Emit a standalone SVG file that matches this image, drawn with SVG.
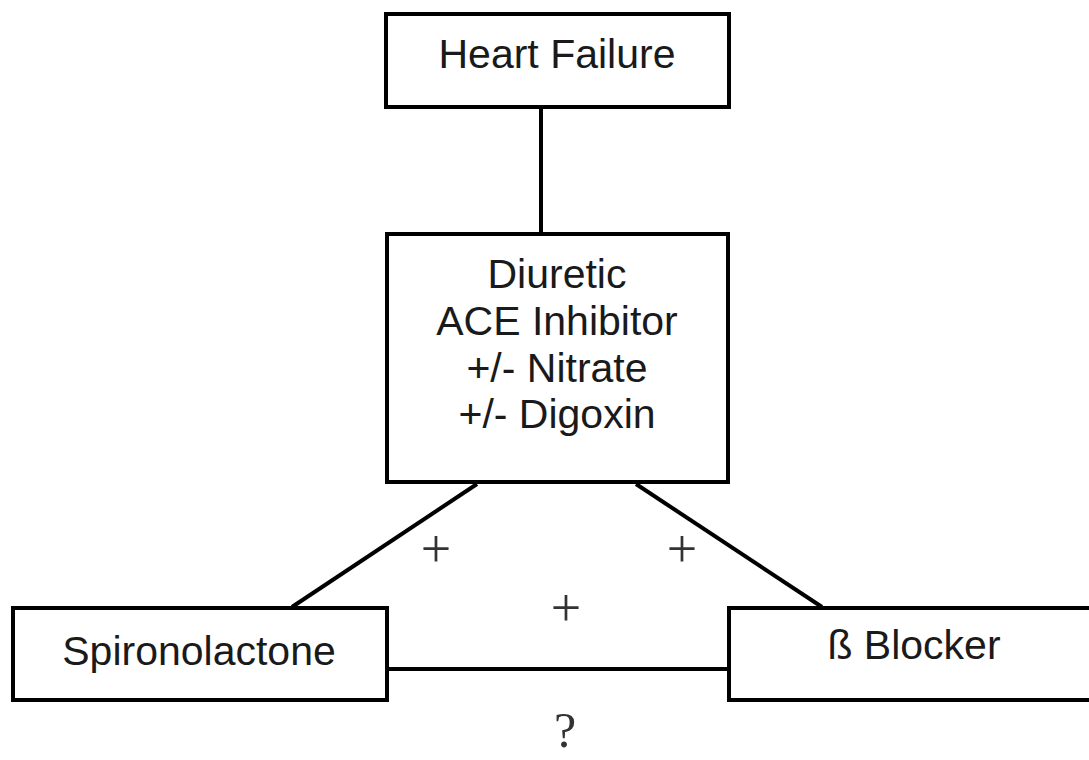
<svg xmlns="http://www.w3.org/2000/svg" width="1089" height="760" viewBox="0 0 1089 760">
<style>
.box{fill:#fff;stroke:#000;stroke-width:4}
.lbl{font-family:"Liberation Sans",Arial,sans-serif;font-size:41px;fill:#1a1a1a;text-anchor:middle}
.sym{font-family:"Liberation Serif","Times New Roman",serif;font-size:54px;fill:#333;text-anchor:middle}
.conn{stroke:#000;stroke-width:4;fill:none}
</style>
<rect width="1089" height="760" fill="#fff"/>
<g id="connectors">
<line class="conn" x1="541" y1="108" x2="541" y2="234"/>
<line class="conn" x1="477" y1="484" x2="292" y2="607"/>
<line class="conn" x1="636" y1="484" x2="822" y2="607"/>
<line class="conn" x1="387" y1="669" x2="729" y2="669"/>
</g>
<g id="heart-failure">
<rect class="box" x="386" y="14" width="343" height="93"/>
<text class="lbl" x="557" y="68">Heart Failure</text>
</g>
<g id="diuretic">
<rect class="box" x="387" y="234" width="341" height="248"/>
<text class="lbl" x="557" y="288">Diuretic</text>
<text class="lbl" x="557" y="335">ACE Inhibitor</text>
<text class="lbl" x="557" y="382">+/- Nitrate</text>
<text class="lbl" x="557" y="428">+/- Digoxin</text>
</g>
<g id="spironolactone">
<rect class="box" x="13" y="608" width="374" height="92"/>
<text class="lbl" x="199" y="665">Spironolactone</text>
</g>
<g id="beta-blocker">
<rect class="box" x="729" y="608" width="380" height="92"/>
<text class="lbl" x="914" y="659">ß Blocker</text>
</g>
<g id="symbols">
<text class="sym" x="436" y="567">+</text>
<text class="sym" x="682" y="567">+</text>
<text class="sym" x="566" y="626">+</text>
<text class="sym" x="565" y="747" style="font-size:50px">?</text>
</g>
</svg>
